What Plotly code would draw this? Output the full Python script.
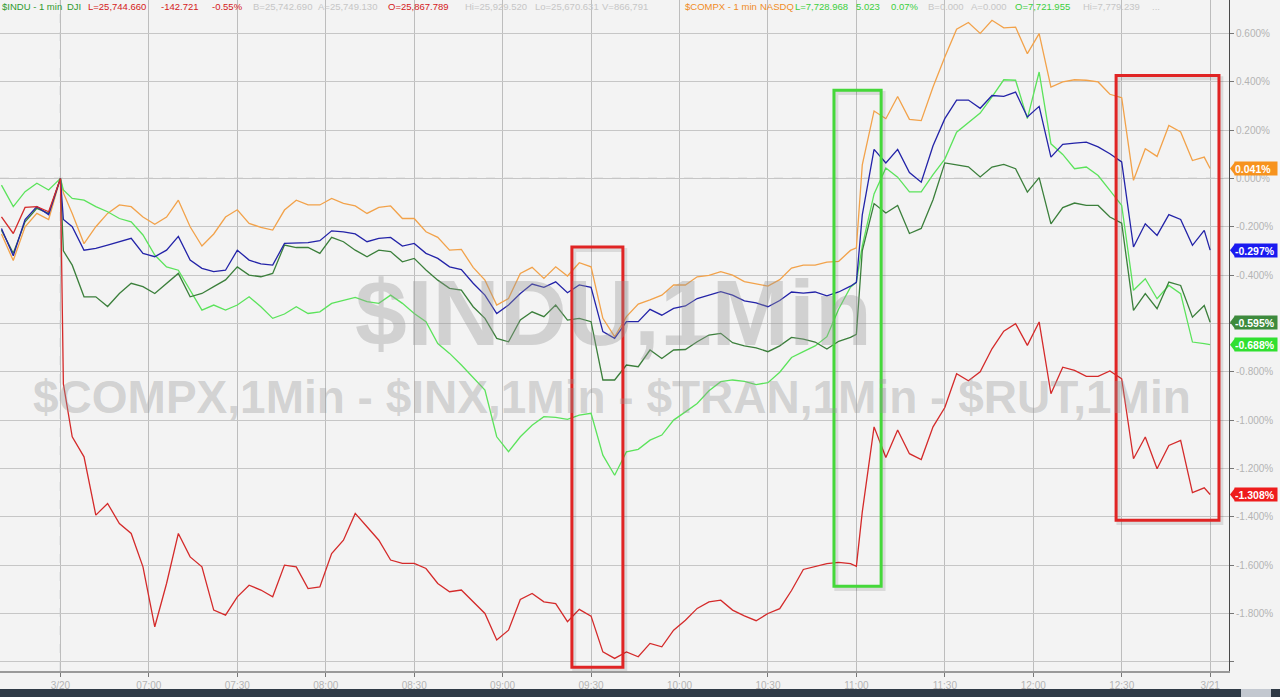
import plotly.graph_objects as go

# ---------------- data (minutes after 06:00, percent change) ----------------
TIMES = [10, 14, 18, 22, 26, 30, 31,
         34, 38, 42, 46, 50, 54, 58, 62, 66, 70,
         74, 78, 82, 86, 90, 94, 98, 102, 106, 110,
         114, 118, 122, 126, 130, 134, 138, 142, 146, 150,
         154, 158, 162, 166, 170, 174, 178, 182, 186, 190,
         194, 198, 202, 206, 210, 214, 218, 222, 226, 230,
         234, 238, 242, 246, 250, 254, 258, 262, 266, 270,
         274, 278, 282, 286, 290, 294, 298,
         300,
         302, 306, 310, 314, 318, 322, 326, 330, 334, 338,
         342, 346, 350, 354, 358, 362, 366, 370, 374, 378,
         382, 386, 390, 394, 398, 402, 406, 410, 414, 418,
         420]

COMPX = [-0.23, -0.34, -0.20, -0.145, -0.17, 0.0, -0.06,
         -0.145, -0.27, -0.20, -0.145, -0.11, -0.117, -0.16, -0.19, -0.16, -0.09,
         -0.20, -0.28, -0.23, -0.16, -0.13, -0.186, -0.203, -0.214, -0.131, -0.09,
         -0.11, -0.11, -0.083, -0.103, -0.114, -0.145, -0.12, -0.114, -0.166, -0.166,
         -0.221, -0.244, -0.297, -0.294, -0.368, -0.421, -0.524, -0.497, -0.393, -0.368,
         -0.414, -0.366, -0.404, -0.349, -0.366, -0.579, -0.655, -0.572, -0.52, -0.503,
         -0.483, -0.441, -0.441, -0.407, -0.401, -0.386, -0.40, -0.427, -0.438, -0.446,
         -0.419, -0.371, -0.359, -0.359, -0.346, -0.343, -0.298,
         -0.287,
         0.056, 0.279, 0.247, 0.339, 0.244, 0.239, 0.378, 0.502, 0.617, 0.645,
         0.60, 0.654, 0.623, 0.626, 0.516, 0.599, 0.378, 0.399, 0.408, 0.406,
         0.399, 0.348, 0.334, -0.008, 0.123, 0.091, 0.219, 0.192, 0.074, 0.088,
         0.041]

INX = [-0.207, -0.32, -0.17, -0.117, -0.15, 0.0, -0.17,
       -0.20, -0.297, -0.29, -0.276, -0.262, -0.248, -0.31, -0.324, -0.297, -0.24,
       -0.338, -0.372, -0.386, -0.38, -0.297, -0.338, -0.354, -0.359, -0.269, -0.266,
       -0.266, -0.258, -0.217, -0.221, -0.23, -0.262, -0.248, -0.244, -0.28, -0.269,
       -0.31, -0.331, -0.366, -0.377, -0.434, -0.483, -0.559, -0.524, -0.476, -0.437,
       -0.451, -0.428, -0.473, -0.441, -0.451, -0.634, -0.662, -0.593, -0.593, -0.542,
       -0.566, -0.538, -0.528, -0.497, -0.484, -0.469, -0.483, -0.507, -0.515, -0.531,
       -0.505, -0.47, -0.475, -0.47, -0.486, -0.47, -0.446,
       -0.43,
       -0.151, 0.12, 0.064, 0.12, 0.024, -0.016, 0.135, 0.247, 0.324, 0.324,
       0.29, 0.343, 0.339, 0.357, 0.254, 0.298, 0.088, 0.141, 0.146, 0.15,
       0.13, 0.102, 0.068, -0.284, -0.188, -0.236, -0.15, -0.17, -0.277, -0.215,
       -0.297]

INDU = [-0.214, -0.31, -0.18, -0.124, -0.145, 0.0, -0.30,
        -0.359, -0.49, -0.49, -0.53, -0.476, -0.434, -0.448, -0.476, -0.434, -0.393,
        -0.49, -0.476, -0.448, -0.42, -0.366, -0.40, -0.407, -0.393, -0.276, -0.286,
        -0.286, -0.31, -0.244, -0.262, -0.297, -0.324, -0.297, -0.303, -0.345, -0.331,
        -0.379, -0.421, -0.455, -0.462, -0.531, -0.579, -0.662, -0.676, -0.586, -0.552,
        -0.572, -0.524, -0.586, -0.579, -0.593, -0.834, -0.834, -0.772, -0.779, -0.71,
        -0.745, -0.71, -0.708, -0.676, -0.648, -0.641, -0.68, -0.693, -0.701, -0.717,
        -0.693, -0.658, -0.665, -0.677, -0.706, -0.674, -0.658,
        -0.645,
        -0.30, -0.104, -0.143, -0.112, -0.228, -0.207, -0.088, 0.064, 0.056, 0.048,
        0.006, 0.047, 0.058, 0.04, -0.057, 0.003, -0.188, -0.121, -0.102, -0.112,
        -0.112, -0.16, -0.185, -0.546, -0.477, -0.539, -0.429, -0.443, -0.574, -0.526,
        -0.595]

TRAN = [-0.028, -0.117, -0.055, -0.02, -0.048, 0.0, -0.048,
        -0.083, -0.09, -0.117, -0.138, -0.166, -0.18, -0.234, -0.317, -0.366, -0.38,
        -0.462, -0.545, -0.524, -0.545, -0.524, -0.49, -0.531, -0.579, -0.561, -0.531,
        -0.559, -0.552, -0.517, -0.506, -0.492, -0.51, -0.517, -0.483, -0.517, -0.559,
        -0.593, -0.683, -0.724, -0.772, -0.823, -0.876, -1.069, -1.131, -1.069, -1.021,
        -0.986, -0.989, -0.997, -0.979, -0.972, -1.145, -1.228, -1.131, -1.121, -1.083,
        -1.062, -1.0, -0.966, -0.931, -0.879, -0.841, -0.834, -0.84, -0.853, -0.845,
        -0.802, -0.741, -0.717, -0.693, -0.655, -0.54, -0.45,
        -0.43,
        -0.279, -0.064, 0.043, 0.005, -0.056, -0.056, 0.016, 0.08, 0.191, 0.231,
        0.27, 0.337, 0.408, 0.406, 0.247, 0.44, 0.143, 0.099, 0.04, 0.047,
        0.012, -0.05, -0.112, -0.463, -0.415, -0.498, -0.443, -0.477, -0.677, -0.684,
        -0.688]

RUT = [-0.159, -0.228, -0.12, -0.117, -0.138, 0.0, -0.85,
       -1.069, -1.152, -1.393, -1.345, -1.428, -1.469, -1.607, -1.855, -1.676, -1.469,
       -1.566, -1.607, -1.786, -1.807, -1.731, -1.683, -1.703, -1.731, -1.60, -1.607,
       -1.697, -1.69, -1.552, -1.497, -1.386, -1.441, -1.497, -1.579, -1.593, -1.593,
       -1.614, -1.676, -1.71, -1.703, -1.752, -1.80, -1.91, -1.869, -1.742, -1.717,
       -1.752, -1.759, -1.834, -1.783, -1.811, -1.959, -1.986, -1.959, -1.979, -1.924,
       -1.938, -1.869, -1.828, -1.779, -1.752, -1.745, -1.786, -1.81, -1.83, -1.80,
       -1.78, -1.705, -1.618, -1.605, -1.594, -1.589, -1.594,
       -1.605,
       -1.38, -1.028, -1.155, -1.041, -1.139, -1.163, -1.028, -0.948, -0.808, -0.837,
       -0.80, -0.705, -0.632, -0.601, -0.691, -0.594, -0.891, -0.781, -0.794, -0.819,
       -0.819, -0.797, -0.829, -1.16, -1.07, -1.201, -1.105, -1.084, -1.30, -1.28,
       -1.308]

X_TICK_VALS = [30, 60, 90, 120, 150, 180, 210, 240, 270, 300, 330, 360, 390, 420]
X_TICK_TEXT = ["3/20", "07:00", "07:30", "08:00", "08:30", "09:00", "09:30",
               "10:00", "10:30", "11:00", "11:30", "12:00", "12:30", "3/21"]
Y_TICK_VALS = [0.6, 0.4, 0.2, 0.0, -0.2, -0.4, -0.6, -0.8, -1.0, -1.2, -1.4, -1.6, -1.8, -2.0]
Y_TICK_TEXT = ["0.600%", "0.400%", "0.200%", "0.000%", "-0.200%", "-0.400%", "-0.600%",
               "-0.800%", "-1.000%", "-1.200%", "-1.400%", "-1.600%", "-1.800%", ""]

HEADER = [("$INDU - 1 min", "#2f9a2f"), ("DJI", "#2f9a2f"), ("L=25,744.660", "#d42020"),
          ("-142.721", "#d42020"), ("-0.55%", "#d42020"), ("B=25,742.690", "#c6c6c6"),
          ("A=25,749.130", "#c6c6c6"), ("O=25,867.789", "#d42020"), ("Hi=25,929.520", "#c6c6c6"),
          ("Lo=25,670.631", "#c6c6c6"), ("V=866,791", "#c6c6c6"), ("$COMPX - 1 min", "#f08c1e"),
          ("NASDQ", "#f08c1e"), ("L=7,728.968", "#3ccf3c"), ("5.023", "#3ccf3c"),
          ("0.07%", "#3ccf3c"), ("B=0.000", "#c6c6c6"), ("A=0.000", "#c6c6c6"),
          ("O=7,721.955", "#3ccf3c"), ("Hi=7,779.239", "#c6c6c6"), ("...", "#c6c6c6")]
HEADER_X = [0, 65, 86, 159, 210, 251, 316, 386, 463, 533, 600, 683, 758, 793, 854, 889,
            926, 969, 1013, 1081, 1150]

WATERMARK_1 = "$INDU,1Min"
WATERMARK_2 = "$COMPX,1Min - $INX,1Min - $TRAN,1Min - $RUT,1Min"

# highlight boxes: (x0, x1, y0, y1, colour)
HIGHLIGHTS = [(203.5, 220.8, -0.284, -2.022, "#e02424"),
              (292.4, 308.4, 0.365, -1.687, "#45d83a"),
              (388.1, 423.0, 0.426, -1.414, "#e02424")]

SERIES = [("$COMPX", COMPX, "#f2a24a", "#f7931e"),
          ("$TRAN", TRAN, "#5be35b", "#30e030"),
          ("$INDU", INDU, "#3b7f3b", "#3d8a3d"),
          ("$INX", INX, "#2323a8", "#1a1af0"),
          ("$RUT", RUT, "#d42a2a", "#ee1c1c")]

X_RANGE = [9.5, 426.4]
Y_RANGE = [-2.038, 0.738]
PLOT_W = 1229.0
PLOT_H = 671.0

fig = go.Figure()
for name, vals, col, _ in SERIES:
    assert len(vals) == len(TIMES), name
    fig.add_trace(go.Scatter(x=TIMES, y=vals, mode="lines", name=name,
                             line=dict(color=col, width=1.3), hoverinfo="skip"))

shapes = []
# zero line dashed
shapes.append(dict(type="line", xref="paper", yref="y", x0=0, x1=1, y0=0, y1=0,
                   line=dict(color="#8a8a8a", width=1, dash="dash"), layer="below"))
# 3/20 dashed vertical
shapes.append(dict(type="line", xref="x", yref="paper", x0=X_TICK_VALS[0], x1=X_TICK_VALS[0],
                   y0=0, y1=1, line=dict(color="#55606e", width=1, dash="dash"), layer="below"))
# highlight boxes (shadow + box)
for x0, x1, y0, y1, col in HIGHLIGHTS:
    shapes.append(dict(type="rect", xref="x", yref="y", x0=x0 + 0.8, x1=x1 + 0.8,
                       y0=y0 - 0.012, y1=y1 - 0.012,
                       line=dict(color="rgba(0,0,0,0.10)", width=4)))
    shapes.append(dict(type="rect", xref="x", yref="y", x0=x0, x1=x1, y0=y0, y1=y1,
                       line=dict(color=col, width=3)))
# bottom dark bar
shapes.append(dict(type="rect", xref="paper", yref="paper", x0=-0.01, x1=1280 / PLOT_W,
                   y0=-(697 - PLOT_H) / PLOT_H - 0.01, y1=-(689 - PLOT_H) / PLOT_H,
                   fillcolor="#2f3a46", line=dict(width=0), layer="above"))
shapes.append(dict(type="rect", xref="paper", yref="paper", x0=1241 / PLOT_W, x1=1271 / PLOT_W,
                   y0=-(697 - PLOT_H) / PLOT_H - 0.01, y1=-(689 - PLOT_H) / PLOT_H,
                   fillcolor="#c3c8d0", line=dict(width=0), layer="above"))

annotations = []
# header
for (txt, col), xp in zip(HEADER, HEADER_X):
    annotations.append(dict(text=txt, xref="paper", yref="paper", x=xp / PLOT_W, y=1,
                            xanchor="left", yanchor="top", showarrow=False, yshift=1,
                            font=dict(family="Liberation Sans, Arial", size=9.5, color=col)))
# watermark
annotations.append(dict(text="<b>" + WATERMARK_1 + "</b>", xref="paper", yref="paper",
                        x=613 / PLOT_W, y=1 - 313 / PLOT_H, xanchor="center", yanchor="middle",
                        showarrow=False,
                        font=dict(family="Liberation Sans, Arial", size=93,
                                  color="rgba(150,150,150,0.36)")))
annotations.append(dict(text="<b>" + WATERMARK_2 + "</b>", xref="paper", yref="paper",
                        x=612 / PLOT_W, y=1 - 397 / PLOT_H, xanchor="center", yanchor="middle",
                        showarrow=False,
                        font=dict(family="Liberation Sans, Arial", size=46,
                                  color="rgba(150,150,150,0.36)")))
# last-value tags
for name, vals, _, tagcol in SERIES:
    last = vals[-1]
    dy = 6.5 * (Y_RANGE[1] - Y_RANGE[0]) / PLOT_H
    shapes.append(dict(type="path", xref="paper", yref="y",
                       path="M {a},{b} L {c},{d} L {c},{e} Z".format(
                           a=1 + 1 / PLOT_W, b=last, c=1 + 6 / PLOT_W, d=last + dy, e=last - dy),
                       fillcolor=tagcol, line=dict(width=0)))
    annotations.append(dict(text="<b>%.3f%%</b>" % last, xref="paper", yref="y",
                            x=1 + 5 / PLOT_W, y=last, xanchor="left", yanchor="middle",
                            showarrow=False, bgcolor=tagcol, width=42, height=13, align="left",
                            borderpad=0,
                            font=dict(family="Liberation Sans, Arial", size=10.5, color="white")))

fig.update_layout(
    width=1280, height=697,
    margin=dict(l=0, r=1280 - PLOT_W, t=0, b=697 - PLOT_H),
    paper_bgcolor="#f3f3f3", plot_bgcolor="#f3f3f3",
    showlegend=False,
    shapes=shapes, annotations=annotations,
    xaxis=dict(range=X_RANGE, tickvals=X_TICK_VALS, ticktext=X_TICK_TEXT,
               showgrid=True, gridcolor="#bdbdbd", gridwidth=1, zeroline=False,
               showline=True, linecolor="#9a9a9a", linewidth=2,
               ticks="outside", ticklen=4, tickcolor="#777777",
               tickfont=dict(family="Liberation Sans, Arial", size=10, color="#b3b3b3")),
    yaxis=dict(range=Y_RANGE, tickvals=Y_TICK_VALS, ticktext=Y_TICK_TEXT, side="right",
               showgrid=True, gridcolor="#c6c6c6", gridwidth=1, zeroline=False,
               showline=True, linecolor="#4a4a4a", linewidth=1,
               ticks="outside", ticklen=4, tickcolor="#777777",
               tickfont=dict(family="Liberation Sans, Arial", size=10, color="#b3b3b3")),
)

fig.write_html("out.html", config={"displayModeBar": False},
               post_script="document.body.style.margin='0';document.body.style.overflow='hidden';")
